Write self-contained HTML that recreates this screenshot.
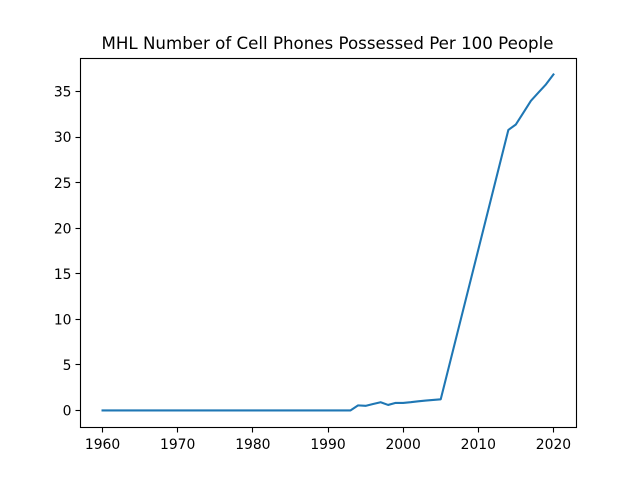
<!DOCTYPE html>
<html>
<head>
<meta charset="utf-8">
<title>MHL Number of Cell Phones Possessed Per 100 People</title>
<style>
html,body{margin:0;padding:0;background:#fff;width:640px;height:480px;overflow:hidden}
svg{display:block}
text{font-family:"DejaVu Sans",sans-serif;fill:#000}
</style>
</head>
<body>
<svg id="chart" xmlns="http://www.w3.org/2000/svg" width="640" height="480" viewBox="0 0 640 480">
<text x="327.5" y="49" text-anchor="middle" font-size="16.67">MHL Number of Cell Phones Possessed Per 100 People</text>
<g id="ticks"></g>
<polyline id="series" fill="none" stroke="#1f77b4" stroke-width="2.08" stroke-linejoin="round" stroke-linecap="square"></polyline>
<rect x="80.5" y="58.5" width="496" height="369" fill="none" stroke="#000" stroke-width="1.11"></rect>
</svg>
<script>
const years = [1960,1961,1962,1963,1964,1965,1966,1967,1968,1969,1970,1971,1972,1973,1974,1975,1976,1977,1978,1979,1980,1981,1982,1983,1984,1985,1986,1987,1988,1989,1990,1991,1992,1993,1994,1995,1996,1997,1998,1999,2000,2001,2002,2003,2004,2005,2014,2015,2016,2017,2018,2019,2020];
const phones = [0,0,0,0,0,0,0,0,0,0,0,0,0,0,0,0,0,0,0,0,0,0,0,0,0,0,0,0,0,0,0,0,0,0,0.55,0.5,0.7,0.9,0.6,0.82,0.82,0.9,1.0,1.08,1.15,1.22,30.8,31.4,32.7,34,34.9,35.8,36.9];
const xTickLabels = [1960,1970,1980,1990,2000,2010,2020];
const yTickLabels = [0,5,10,15,20,25,30,35];

const NS = 'http://www.w3.org/2000/svg';
const plot = {left:80, right:576, top:57.6, bottom:427.2};
const xMin = Math.min(...years), xMax = Math.max(...years);
const yMin = Math.min(...phones), yMax = Math.max(...phones);
const xPad = (xMax - xMin) * 0.05, yPad = (yMax - yMin) * 0.05;
function xScale(v){ return plot.left + (v - (xMin - xPad)) / ((xMax + xPad) - (xMin - xPad)) * (plot.right - plot.left); }
function yScale(v){ return plot.bottom - (v - (yMin - yPad)) / ((yMax + yPad) - (yMin - yPad)) * (plot.bottom - plot.top); }
function snap(p){ return Math.floor(p) + 0.5; }

document.getElementById('series').setAttribute('points',
  years.map((y, i) => xScale(y).toFixed(2) + ',' + yScale(phones[i]).toFixed(2)).join(' '));

const ticks = document.getElementById('ticks');
xTickLabels.forEach(function (t) {
  const x = xScale(t);
  const mark = document.createElementNS(NS, 'line');
  
  
  mark.setAttribute('x1', snap(x));
  mark.setAttribute('x2', snap(x));
  mark.setAttribute('y1', 427.5);
  mark.setAttribute('y2', 432.5);
  mark.setAttribute('stroke', '#000');
  mark.setAttribute('stroke-width', '1.11');
  ticks.appendChild(mark);
  const label = document.createElementNS(NS, 'text');
  
  
  label.setAttribute('x', x);
  label.setAttribute('y', 449);
  label.setAttribute('text-anchor', 'middle');
  label.setAttribute('font-size', '13.89');
  label.textContent = t;
  ticks.appendChild(label);
});
yTickLabels.forEach(function (t) {
  const y = yScale(t);
  const mark = document.createElementNS(NS, 'line');
  
  
  mark.setAttribute('x1', 75.5);
  mark.setAttribute('x2', 80.5);
  mark.setAttribute('y1', snap(y));
  mark.setAttribute('y2', snap(y));
  mark.setAttribute('stroke', '#000');
  mark.setAttribute('stroke-width', '1.11');
  ticks.appendChild(mark);
  const label = document.createElementNS(NS, 'text');
  
  
  label.setAttribute('x', 71.5);
  label.setAttribute('y', y + 5);
  label.setAttribute('text-anchor', 'end');
  label.setAttribute('font-size', '13.89');
  label.textContent = t;
  ticks.appendChild(label);
});
</script>
</body>
</html>
